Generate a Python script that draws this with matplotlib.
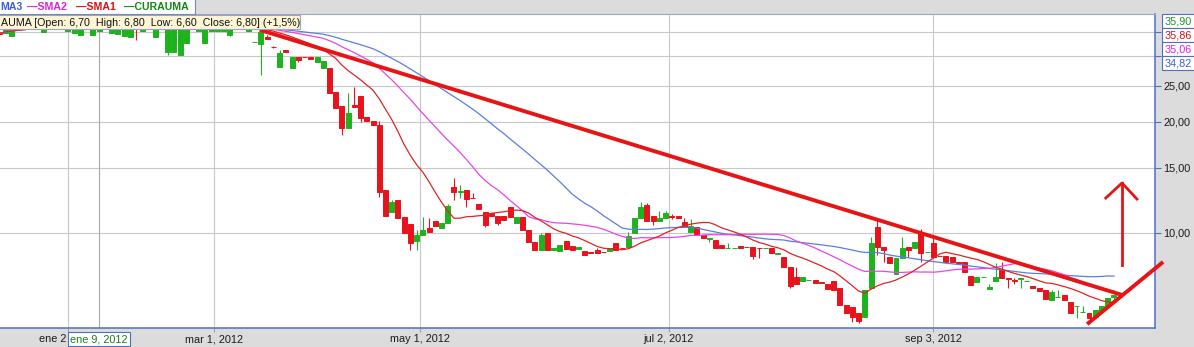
import numpy as np
import pandas as pd
import matplotlib
matplotlib.use('Agg')
import matplotlib.pyplot as plt
from matplotlib.patches import Rectangle

plt.rcParams['font.family'] = ['Liberation Sans', 'DejaVu Sans']

W, H = 1194, 347

# CURAUMA - velas diarias (indice = sesion visible)
opens = [34.8, 34.7, 34.1, 35.4, 36.0, 36.0, 36.0, 35.0, 36.0, 36.0,
         36.0, 35.2, 34.7, 34.3, 36.0, 34.3, 35.2, 36.0, 34.7, 34.5,
         34.1, 33.9, 35.9, 35.2, 36.0, 33.9, 36.0, 30.8, 30.8, 30.3,
         32.6, 36.0, 35.2, 32.6, 35.2, 35.2, 35.2, 34.3, 36.0, 36.0,
         35.2, 32.8, 32.4, 33.9, 31.85, 28.1, 31.2, 27.9, 29.9, 29.9,
         29.9, 29.0, 27.9, 27.9, 24.1, 22.0, 19.2, 22.2, 23.5, 20.6,
         20.1, 19.6, 13.1, 11.4, 12.3, 11.05, 10.6, 9.5, 9.88, 10.3,
         10.77, 10.3, 10.64, 13.3, 12.9, 13.1, 12.45, 11.98, 11.4, 11.3,
         11.1, 11.1, 11.76, 10.64, 11.05, 10.2, 9.46, 9.0, 10.0, 9.0,
         8.95, 9.5, 9.2, 9.05, 8.94, 8.9, 9.0, 8.9, 8.94, 9.4,
         9.12, 9.16, 10.0, 10.98, 11.9, 11.1, 10.77, 10.98, 11.1, 11.1,
         10.7, 10.06, 10.38, 9.88, 9.65, 9.57, 9.28, 9.08, 9.08, 9.22,
         9.17, 9.17, 9.12, 9.08, 9.11, 8.8, 8.61, 8.09, 7.6, 7.42,
         7.44, 7.46, 7.35, 7.28, 7.42, 7.1, 6.39, 6.31, 6.08, 5.93,
         7.1, 10.38, 9.16, 8.61, 7.75, 8.56, 9.16, 9.11, 10.0, 8.86,
         9.4, 8.67, 8.67, 8.61, 8.35, 8.35, 7.65, 7.37, 7.58, 7.06,
         7.42, 7.94, 7.55, 7.44, 7.53, 7.4, 7.19, 7.1, 7.01, 6.59,
         6.7, 6.8, 6.51, 6.33, 6.1, 6.08, 5.93, 6.16, 6.36, 6.70]
highs = [34.9, 35.9, 35.9, 35.9, 36.0, 36.0, 36.0, 35.9, 36.0, 36.0,
         36.0, 35.9, 35.9, 35.9, 36.0, 35.9, 35.9, 36.0, 35.9, 35.9,
         35.9, 35.9, 35.9, 35.9, 36.0, 35.9, 36.0, 35.9, 35.9, 35.9,
         35.9, 36.0, 35.9, 35.9, 35.9, 35.9, 35.9, 35.9, 36.0, 36.0,
         35.9, 32.9, 35.4, 34.3, 32.0, 31.2, 31.2, 29.9, 29.9, 29.9,
         29.9, 29.9, 29.2, 27.9, 24.1, 22.0, 23.9, 24.8, 23.5, 20.6,
         20.1, 20.1, 13.1, 12.3, 12.3, 11.05, 10.6, 10.2, 11.05, 10.98,
         10.77, 10.64, 12.0, 14.1, 13.5, 13.1, 12.8, 11.98, 11.4, 11.3,
         11.1, 11.1, 11.76, 11.05, 11.05, 10.2, 9.46, 10.0, 10.0, 9.1,
         9.3, 9.5, 9.2, 9.15, 8.94, 8.9, 9.1, 8.9, 9.1, 9.4,
         9.12, 10.06, 10.98, 12.1, 12.05, 11.1, 11.5, 11.5, 11.25, 11.1,
         10.98, 10.9, 10.38, 9.88, 9.69, 9.57, 9.28, 9.4, 9.11, 9.22,
         9.17, 9.17, 9.12, 9.12, 9.11, 8.83, 8.61, 8.09, 8.09, 7.6,
         7.46, 7.46, 7.35, 7.28, 7.42, 7.1, 6.39, 6.31, 6.08, 7.01,
         9.73, 10.84, 9.16, 8.61, 8.56, 9.76, 9.16, 9.46, 10.25, 8.9,
         9.7, 8.67, 8.67, 8.61, 8.35, 8.35, 7.65, 7.6, 7.6, 7.3,
         8.3, 8.35, 7.55, 7.55, 7.55, 7.42, 7.19, 7.1, 7.01, 7.01,
         7.01, 6.8, 6.51, 6.36, 6.33, 6.08, 6.19, 6.36, 6.68, 6.80]
lows = [34.4, 34.7, 34.0, 35.4, 36.0, 36.0, 36.0, 35.0, 36.0, 36.0,
        36.0, 35.2, 34.7, 34.3, 36.0, 34.3, 35.2, 36.0, 34.7, 34.5,
        34.1, 33.9, 33.2, 35.2, 36.0, 33.9, 36.0, 30.3, 30.8, 30.3,
        32.6, 36.0, 35.2, 32.6, 35.2, 35.2, 35.2, 34.0, 36.0, 36.0,
        35.2, 32.8, 26.7, 33.5, 31.6, 28.1, 30.8, 27.9, 29.0, 29.85,
        29.6, 29.0, 27.9, 23.9, 21.8, 18.4, 19.2, 21.9, 20.0, 20.1,
        19.6, 12.5, 11.1, 11.4, 11.0, 10.0, 9.0, 9.0, 9.88, 10.06,
        10.45, 10.3, 10.64, 12.3, 12.4, 11.76, 12.4, 11.6, 10.38, 11.1,
        10.5, 10.84, 11.05, 10.64, 10.2, 9.46, 9.0, 9.0, 9.0, 9.0,
        8.95, 9.05, 9.0, 9.05, 8.72, 8.85, 8.84, 8.86, 8.94, 9.0,
        9.08, 9.16, 10.0, 10.98, 10.77, 10.5, 10.77, 10.98, 10.9, 10.98,
        10.38, 10.06, 9.88, 9.69, 9.46, 9.11, 9.11, 9.08, 9.08, 9.11,
        9.14, 8.5, 8.56, 9.08, 8.83, 8.8, 8.09, 7.1, 7.28, 7.42,
        7.44, 7.33, 7.32, 7.06, 7.0, 6.39, 6.08, 5.75, 5.71, 5.93,
        7.1, 8.72, 8.35, 8.3, 7.75, 8.56, 8.61, 9.11, 8.35, 8.86,
        8.61, 8.65, 8.35, 8.35, 8.3, 7.84, 7.24, 7.37, 7.58, 7.06,
        7.42, 7.55, 7.1, 7.3, 7.1, 7.4, 7.1, 6.97, 6.64, 6.59,
        6.7, 6.59, 6.08, 5.89, 6.1, 5.89, 5.93, 6.16, 6.36, 6.60]
closes = [34.6, 35.4, 35.4, 35.9, 36.0, 36.0, 36.0, 35.9, 36.0, 36.0,
          36.0, 35.9, 35.9, 35.9, 36.0, 35.9, 35.9, 36.0, 35.9, 35.9,
          35.9, 35.9, 35.8, 35.9, 36.0, 35.9, 36.0, 35.9, 35.9, 35.9,
          35.9, 36.0, 35.9, 35.9, 35.9, 35.9, 35.9, 35.9, 36.0, 36.0,
          35.9, 32.85, 35.0, 33.5, 31.8, 30.6, 30.8, 29.9, 29.4, 29.85,
          29.6, 29.9, 29.2, 23.9, 21.8, 19.2, 21.1, 21.9, 20.5, 20.1,
          19.6, 12.9, 11.1, 12.1, 11.0, 10.0, 9.4, 9.88, 10.2, 10.06,
          10.45, 10.64, 11.83, 12.9, 13.0, 12.35, 12.4, 11.6, 10.5, 11.1,
          10.64, 10.84, 11.05, 11.05, 10.2, 9.46, 9.0, 9.9, 9.0, 9.1,
          9.3, 9.05, 9.0, 9.15, 8.72, 8.85, 8.84, 8.86, 9.1, 9.0,
          9.08, 9.81, 10.98, 11.76, 10.77, 10.77, 10.98, 11.3, 11.05, 10.98,
          10.38, 10.45, 9.88, 9.69, 9.69, 9.11, 9.11, 9.11, 9.11, 9.11,
          9.14, 8.67, 9.08, 9.12, 8.83, 8.83, 8.09, 7.19, 7.28, 7.6,
          7.46, 7.33, 7.32, 7.06, 7.0, 6.39, 6.08, 5.93, 5.79, 7.01,
          9.4, 9.16, 9.0, 8.3, 8.56, 9.11, 9.0, 9.46, 8.83, 8.9,
          8.61, 8.65, 8.35, 8.35, 8.3, 7.84, 7.24, 7.6, 7.6, 7.15,
          7.6, 7.55, 7.5, 7.4, 7.55, 7.42, 7.1, 6.97, 6.64, 6.93,
          6.72, 6.59, 6.08, 6.36, 6.12, 5.89, 6.19, 6.36, 6.68, 6.80]

sma_windows = {'SMA1': 13, 'SMA2': 25, 'SMA3': 40}
sma_colors = {'SMA1': '#e02424', 'SMA2': '#e845e8', 'SMA3': '#5a7ee0'}

date_pos = [11, 34.5, 67.5, 107.5, 150]
date_labels = ['', 'mar 1, 2012', 'may 1, 2012', 'jul 2, 2012', 'sep 3, 2012']
first_label = 'ene 2'   # el resto queda tapado por la caja del cursor
cursor_pos = 16
cursor_label = 'ene 9, 2012'
cursor_values = ['35,90', '35,86', '35,06', '34,82']

price_ticks = [10, 15, 20, 25, 30, 35]
price_labels = ['10,00', '15,00', '20,00', '25,00', '', '']

# lineas dibujadas a mano sobre el grafico
trend_down = ([41.8, 180.3], [35.4, 6.8])
trend_up = ([174.7, 186.9], [5.67, 8.35])
arrow_x = [180.3, 180.3]
arrow_y = [8.19, 13.65]
arrow_head = ([177.7, 180.3, 182.7], [12.43, 13.65, 12.35])

RED = '#e8131c'
GREEN = '#1eb21e'
FRAME = '#4d6fc4'
BG = '#dcdcdc'

fig = plt.figure(figsize=(W / 100, H / 100), dpi=100, facecolor=BG)
ax = fig.add_axes([0, 1 - 328 / H, 1155 / W, (328 - 14) / H])
ax.set_facecolor('white')

df = pd.DataFrame({'open': opens, 'high': highs, 'low': lows, 'close': closes})
x = np.arange(len(df))
up = df['close'] >= df['open']
col = np.where(up, GREEN, RED)

ax.set_yscale('log')
ax.set_ylim(5.535, 39.07)
ax.set_xlim(0.08, 185.6)

# rejilla
for p in price_ticks:
    ax.axhline(p, color='#c8c8c8', lw=0.8, zorder=1)
for d in date_pos:
    ax.axvline(d, color='#c8c8c8', lw=0.8, zorder=1)
ax.axvline(cursor_pos, color='#a8a8a8', lw=0.8, zorder=1)

# velas
ax.vlines(x, df['low'], df['high'], colors=col, lw=0.8, zorder=2)
bottom = np.minimum(df['open'], df['close'])
height = (df['open'] - df['close']).abs()
ax.bar(x, height, bottom=bottom, width=0.8, color=col, edgecolor=col,
       linewidth=0.7, zorder=3)

# medias moviles
for name in ['SMA3', 'SMA2', 'SMA1']:
    sma = df['close'].rolling(sma_windows[name], min_periods=1).mean()
    ax.plot(x, sma, color=sma_colors[name], lw=0.9, zorder=4)

# trazos a mano
ax.plot(*trend_down, color='#e81414', lw=2.8, solid_capstyle='butt', zorder=6)
ax.plot(*trend_up, color='#e81414', lw=2.8, solid_capstyle='butt', zorder=6, clip_on=False)
ax.plot(arrow_x, arrow_y, color='#e81414', lw=2.0, zorder=6)
ax.plot(*arrow_head, color='#e81414', lw=2.0, zorder=6)

# ejes
ax.yaxis.tick_right()
ax.set_yticks(price_ticks)
ax.set_yticklabels(price_labels)
ax.yaxis.set_minor_locator(matplotlib.ticker.NullLocator())
ax.tick_params(axis='y', which='both', direction='out', length=4, width=0.8,
               color=FRAME, labelsize=7.8, labelcolor='#1a1a1a', pad=2)
ax.set_xticks(date_pos)
ax.set_xticklabels(date_labels)
ax.tick_params(axis='x', direction='out', length=3, width=0.8, color='#a0a0a0',
               labelsize=7.8, labelcolor='#1a1a1a', pad=1.5)
for s in ['bottom', 'right']:
    ax.spines[s].set_color(FRAME)
    ax.spines[s].set_linewidth(1.1)
ax.spines['top'].set_color('#9aa6c4')
ax.spines['top'].set_linewidth(0.8)
ax.spines['left'].set_visible(False)


def px_rect(x0, y0, x1, y1, fc, ec):
    fig.add_artist(Rectangle((x0 / W, 1 - y1 / H), (x1 - x0) / W, (y1 - y0) / H,
                             transform=fig.transFigure, fc=fc, ec=ec, lw=0.8,
                             zorder=8, clip_on=False))


def px_text(px, py, s, **kw):
    fig.text(px / W, 1 - py / H, s, zorder=9, va='center', **kw)


# leyenda superior
px_rect(-2, -2, 195, 14, 'white', '#7088c0')
px_text(0, 7, 'MA3', color='#3b5fd0', fontsize=7.6, fontweight='bold')
px_text(27, 7, '—SMA2', color='#dd22dd', fontsize=7.6, fontweight='bold')
px_text(76, 7, '—SMA1', color='#dd1111', fontsize=7.6, fontweight='bold')
px_text(124, 7, '—CURAUMA', color='#118811', fontsize=7.6, fontweight='bold')

# caja de informacion
px_rect(-2, 15, 300, 29, '#fff6d5', '#9aa6c0')
px_text(1, 22.5, 'AUMA [Open: 6,70  High: 6,80  Low: 6,60  Close: 6,80] (+1,5%)',
        color='#111111', fontsize=7.7)

# valores en el cursor
val_colors = ['#1a9a1a', '#dd1111', '#dd22dd', '#3b5fd0']
for k, (v, c) in enumerate(zip(cursor_values, val_colors)):
    px_rect(1162, 14 + 14 * k, 1200, 28 + 14 * k, 'white', FRAME)
    px_text(1165, 21.5 + 14 * k, v, color=c, fontsize=7.8)

# primera fecha (recortada) y etiqueta de fecha del cursor
px_text(66, 339, first_label, color='#1a1a1a', fontsize=7.8, ha='right')
px_rect(68, 332, 130, 346, 'white', FRAME)
px_text(99, 339, cursor_label, color='#1a7a1a', fontsize=7.8, ha='center')

fig.savefig('out.png', dpi=100, facecolor=BG)
